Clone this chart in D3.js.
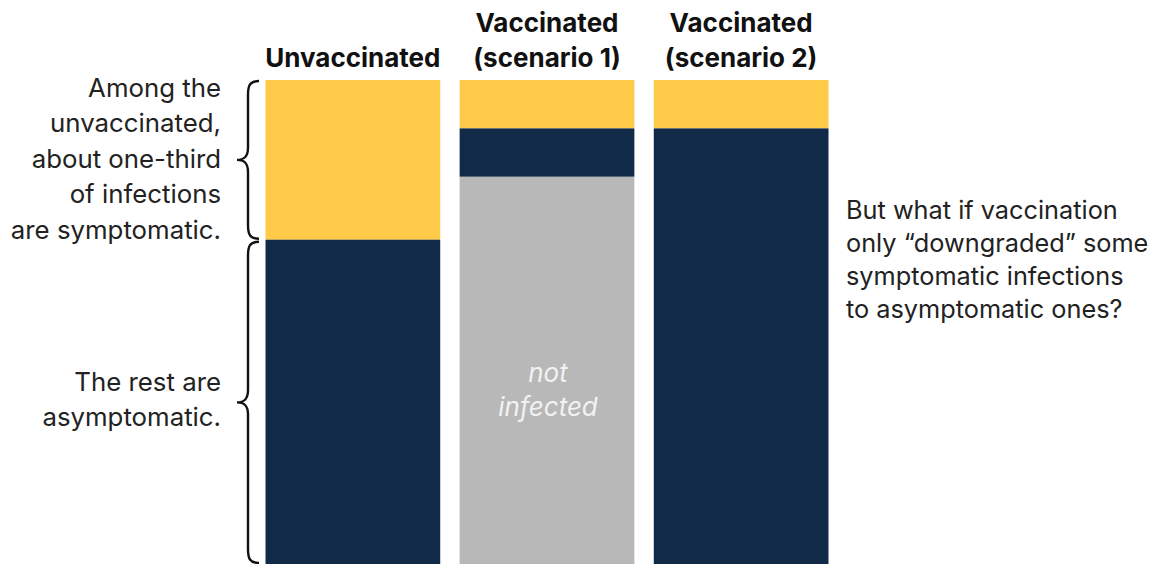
<!DOCTYPE html>
<html>
<head>
<meta charset="utf-8">
<script src="https://cdn.jsdelivr.net/npm/d3@7"></script>
<style>
  html, body { margin: 0; padding: 0; background: #fff; }
  svg { display: block; font-family: Inter, "Noto Sans", sans-serif; }
</style>
</head>
<body>
<svg id="chart" width="1161" height="564"></svg>
<script>
// ---- data ----
const categories = ["Unvaccinated", "Vaccinated (scenario 1)", "Vaccinated (scenario 2)"];
const headerLines = [["Unvaccinated"], ["Vaccinated", "(scenario 1)"], ["Vaccinated", "(scenario 2)"]];
const symptomatic = [0.33, 0.10, 0.10];
const asymptomatic = [0.67, 0.10, 0.90];
const notInfected = [0.00, 0.80, 0.00];
const seriesKeys = ["symptomatic", "asymptomatic", "notInfected"];
const seriesColors = ["#FECA47", "#102A48", "#B8B8B9"];
const leftNote1 = ["Among the", "unvaccinated,", "about one-third", "of infections", "are symptomatic."];
const leftNote2 = ["The rest are", "asymptomatic."];
const rightNote = ["But what if vaccination", "only \u201Cdowngraded\u201D some", "symptomatic infections", "to asymptomatic ones?"];
const grayLabel = ["not", "infected"];

// ---- build ----
const rows = categories.map((c, i) => ({
  category: c,
  symptomatic: symptomatic[i],
  asymptomatic: asymptomatic[i],
  notInfected: notInfected[i]
}));

const svg = d3.select("#chart");
const x = d3.scaleBand().domain(categories).range([265.5, 828.5]).paddingInner(0.1).paddingOuter(0);
const y = d3.scaleLinear().domain([0, 1]).range([80, 564]);
const color = d3.scaleOrdinal().domain(seriesKeys).range(seriesColors);

const stacked = d3.stack().keys(seriesKeys)(rows);

svg.append("g").selectAll("g")
  .data(stacked)
  .join("g")
  .attr("fill", d => color(d.key))
  .selectAll("rect")
  .data(d => d)
  .join("rect")
  .attr("x", d => x(d.data.category))
  .attr("y", d => y(d[0]))
  .attr("width", x.bandwidth())
  .attr("height", d => Math.max(0, y(d[1]) - y(d[0])));

// headers
const hdr = svg.append("g").attr("font-weight", 700).attr("font-size", 26).attr("fill", "#111").attr("text-anchor", "middle");
categories.forEach((c, i) => {
  const lines = headerLines[i];
  const cx = x(c) + x.bandwidth() / 2;
  lines.forEach((ln, j) => {
    const base = 67 - (lines.length - 1 - j) * 35.5;
    hdr.append("text").attr("x", cx).attr("y", base).text(ln);
  });
});

// gray label
const gi = 1;
const grayMid = x(categories[gi]) + x.bandwidth() / 2;
const grayG = svg.append("g").attr("font-style", "italic").attr("font-size", 26).attr("fill", "#F2F2F2").attr("text-anchor", "middle");
grayLabel.forEach((t, j) => {
  grayG.append("text").attr("x", grayMid + 1).attr("y", 382 + j * 34).text(t);
});

// left notes
const leftG = svg.append("g").attr("font-size", 25.8).attr("fill", "#222").attr("text-anchor", "end");
leftNote1.forEach((t, j) => leftG.append("text").attr("x", 221).attr("y", 97 + j * 35.4).text(t));
leftNote2.forEach((t, j) => leftG.append("text").attr("x", 221).attr("y", 391 + j * 35.4).text(t));

// right note
const rightG = svg.append("g").attr("font-size", 25.3).attr("fill", "#222").attr("text-anchor", "start");
rightNote.forEach((t, j) => rightG.append("text").attr("x", 846).attr("y", 219 + j * 33).text(t));

// braces
function brace(y0, y1) {
  const xe = 259, xs = 248, xt = 237;
  const ym = (y0 + y1) / 2;
  return `M${xe},${y0} C${xs + 2},${y0} ${xs},${y0 + 4} ${xs},${y0 + 14}` +
    ` L${xs},${ym - 12} C${xs},${ym - 3} ${xs - 4},${ym} ${xt},${ym}` +
    ` C${xs - 4},${ym} ${xs},${ym + 3} ${xs},${ym + 12}` +
    ` L${xs},${y1 - 14} C${xs},${y1 - 4} ${xs + 2},${y1} ${xe},${y1}`;
}
const bG = svg.append("g").attr("fill", "none").attr("stroke", "#111").attr("stroke-width", 2.4);
bG.append("path").attr("d", brace(y(0) + 1, y(symptomatic[0]) - 1));
bG.append("path").attr("d", brace(y(symptomatic[0]) + 2, y(1) - 1));
</script>
</body>
</html>
